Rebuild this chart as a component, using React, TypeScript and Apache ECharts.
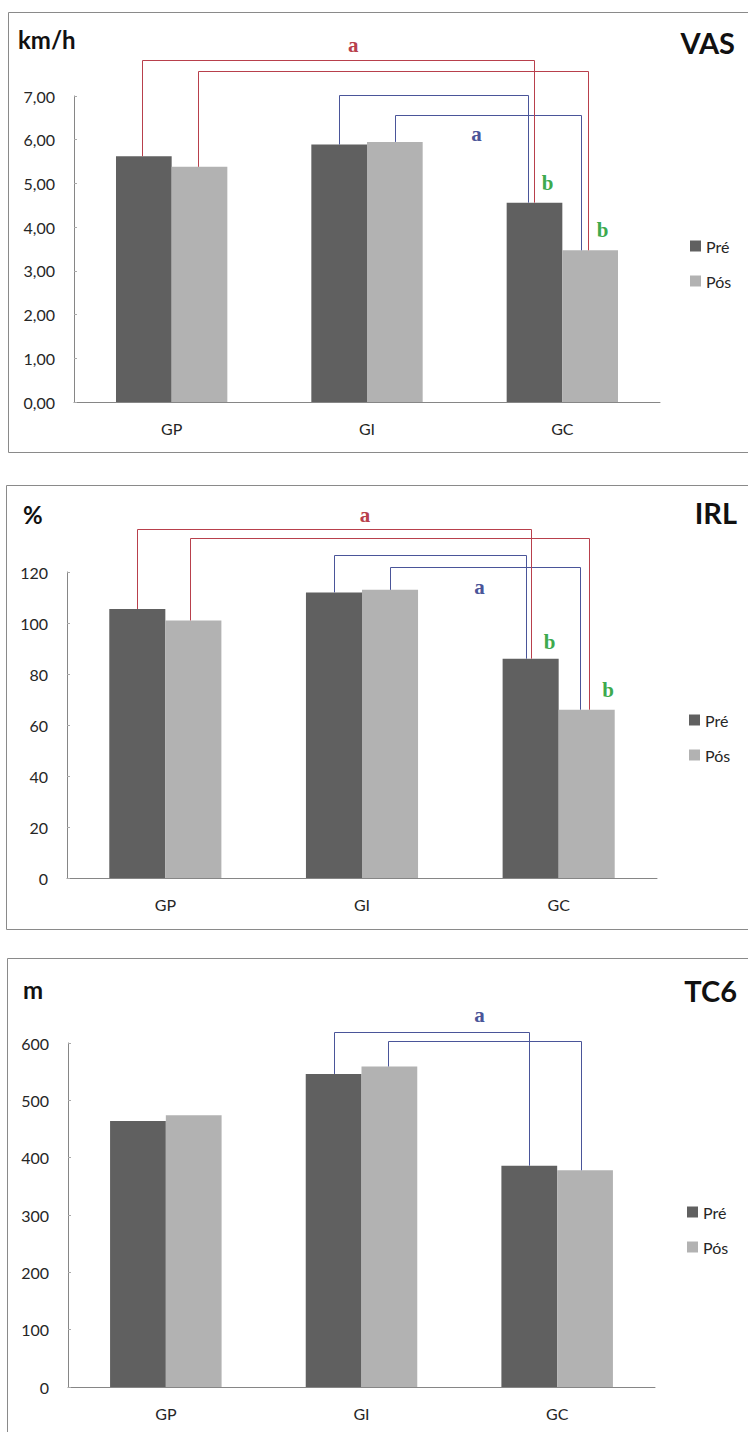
import React, { useEffect, useRef } from "react";
import * as echarts from "echarts";

// ---------- data ----------
const CATEGORIES = ["GP", "GI", "GC"];
const SERIES_NAMES = ["Pré", "Pós"];

const VAS_PRE = [5.62, 5.89, 4.56];
const VAS_POS = [5.38, 5.95, 3.47];
const IRL_PRE = [105.5, 112, 86];
const IRL_POS = [101, 113, 66];
const TC6_PRE = [464, 546, 386];
const TC6_POS = [474, 559, 378];

const VAS_AXIS = { min: 0, max: 7, interval: 1 };
const IRL_AXIS = { min: 0, max: 120, interval: 20 };
const TC6_AXIS = { min: 0, max: 600, interval: 100 };

// significance brackets: from/to = [category index, series], level = axis value
const VAS_BRACKETS = [
  { from: [0, "pre"], to: [2, "pre"], level: 7.82, tone: "red" },
  { from: [0, "pos"], to: [2, "pos"], level: 7.57, tone: "red" },
  { from: [1, "pre"], to: [2, "pre"], level: 7.02, tone: "blue" },
  { from: [1, "pos"], to: [2, "pos"], level: 6.56, tone: "blue" },
];
const IRL_BRACKETS = [
  { from: [0, "pre"], to: [2, "pre"], level: 136.7, tone: "red" },
  { from: [0, "pos"], to: [2, "pos"], level: 133.2, tone: "red" },
  { from: [1, "pre"], to: [2, "pre"], level: 126.7, tone: "blue" },
  { from: [1, "pos"], to: [2, "pos"], level: 122, tone: "blue" },
];
const TC6_BRACKETS = [
  { from: [1, "pre"], to: [2, "pre"], level: 620, tone: "blue" },
  { from: [1, "pos"], to: [2, "pos"], level: 603, tone: "blue" },
];

// significance letters: at = position in category units, value = axis value
const VAS_LETTERS = [
  { text: "a", at: 0.93, value: 8.16, tone: "red" },
  { text: "a", at: 1.56, value: 6.12, tone: "blue" },
  { text: "b", at: 1.925, value: 5.0, tone: "green" },
  { text: "b", at: 2.206, value: 3.93, tone: "green" },
];
const IRL_LETTERS = [
  { text: "a", at: 1.015, value: 142.4, tone: "red" },
  { text: "a", at: 1.597, value: 114.2, tone: "blue" },
  { text: "b", at: 1.954, value: 92.7, tone: "green" },
  { text: "b", at: 2.251, value: 73.7, tone: "green" },
];
const TC6_LETTERS = [{ text: "a", at: 1.603, value: 648, tone: "blue" }];

// ---------- styles ----------
const TONES: Record<string, string> = { red: "#b8404c", blue: "#4a5599", green: "#3daa4e" };
const PRE_COLOR = "#606060";
const POS_COLOR = "#b2b2b2";
const AXIS_COLOR = "#868686";
const TEXT_COLOR = "#262626";
const FONT = "Lato, 'Open Sans', sans-serif";
const BAR_FRAC = 0.285;

const fmtComma = (v: number) => v.toFixed(2).replace(".", ",");
const fmtInt = (v: number) => String(v);

const PANELS = [
  {
    unit: "km/h", title: "VAS", pre: VAS_PRE, pos: VAS_POS, axis: VAS_AXIS,
    brackets: VAS_BRACKETS, letters: VAS_LETTERS, fmt: fmtComma,
    border: { x: 8.5, y: 12.5, h: 440 },
    grid: { left: 74, top: 96, width: 586, height: 306 },
    unitPos: [18, 39], titlePos: [735, 42], legend: { left: 690, top: 238 },
    nudges: [[-2, 0], [-2, -2], [0, -6], [0, -9]],
  },
  {
    unit: "%", title: "IRL", pre: IRL_PRE, pos: IRL_POS, axis: IRL_AXIS,
    brackets: IRL_BRACKETS, letters: IRL_LETTERS, fmt: fmtInt,
    border: { x: 6.5, y: 485.5, h: 444 },
    grid: { left: 67, top: 572, width: 590, height: 306 },
    unitPos: [23, 514], titlePos: [737, 512], legend: { left: 689, top: 712 },
    nudges: [[0, 0], [-3, 2], [0, -5], [0, -7]],
  },
  {
    unit: "m", title: "TC6", pre: TC6_PRE, pos: TC6_POS, axis: TC6_AXIS,
    brackets: TC6_BRACKETS, letters: TC6_LETTERS, fmt: fmtInt,
    border: { x: 7.5, y: 958.5, h: 600 },
    grid: { left: 68, top: 1043, width: 587, height: 344 },
    unitPos: [23, 989], titlePos: [737, 990], legend: { left: 687, top: 1204 },
    nudges: [[0, 0], [-1, -4]],
  },
];

function buildOption() {
  const grid: any[] = [];
  const xAxis: any[] = [];
  const yAxis: any[] = [];
  const series: any[] = [];
  const legend: any[] = [];

  PANELS.forEach((p, gi) => {
    grid.push({ ...p.grid, containLabel: false });
    xAxis.push({
      type: "category", gridIndex: gi, data: CATEGORIES,
      axisLine: { lineStyle: { color: AXIS_COLOR, width: 1 } },
      axisTick: { show: false },
      axisLabel: { color: TEXT_COLOR, fontSize: 16, fontFamily: FONT, margin: 18 },
    });
    yAxis.push({
      type: "value", gridIndex: gi, min: p.axis.min, max: p.axis.max, interval: p.axis.interval,
      splitLine: { show: false },
      axisLine: { show: true, lineStyle: { color: AXIS_COLOR, width: 1 } },
      axisTick: { show: true, inside: true, length: 3, lineStyle: { color: "#aaa" } },
      axisLabel: { color: TEXT_COLOR, fontSize: 16, fontFamily: FONT, margin: 19, formatter: p.fmt },
    });
    series.push({
      type: "bar", name: SERIES_NAMES[0], xAxisIndex: gi, yAxisIndex: gi, data: p.pre,
      barWidth: BAR_FRAC * 100 + "%", barGap: "0%", itemStyle: { color: PRE_COLOR },
    });
    series.push({
      type: "bar", name: SERIES_NAMES[1], xAxisIndex: gi, yAxisIndex: gi, data: p.pos,
      barWidth: BAR_FRAC * 100 + "%", barGap: "0%", itemStyle: { color: POS_COLOR },
    });
    legend.push({
      data: SERIES_NAMES, orient: "vertical", left: p.legend.left, top: p.legend.top,
      icon: "rect", itemWidth: 11, itemHeight: 11, itemGap: 19, padding: 0,
      textStyle: { color: TEXT_COLOR, fontSize: 16, fontFamily: FONT, lineHeight: 16 },
      selectedMode: false,
    });
  });

  return {
    animation: false,
    backgroundColor: "#ffffff",
    grid, xAxis, yAxis, series, legend,
  };
}

// Annotations placed through the chart's own axes (convertToPixel)
function buildGraphics(chart: any) {
  const graphic: any[] = [];
  PANELS.forEach((p, gi) => {
    const finder = { xAxisIndex: gi, yAxisIndex: gi };
    const px = (cat: number, v: number) => chart.convertToPixel(finder, [cat, v]);
    const band = px(1, 0)[0] - px(0, 0)[0];
    const x0 = px(0, 0)[0];
    const xAt = (c: number, off: number) => x0 + (c + off) * band;
    const yAt = (v: number) => px(0, v)[1];
    const valOf = (cat: number, s: string) => (s === "pre" ? p.pre[cat] : p.pos[cat]);
    const offOf = (s: string) => (s === "pre" ? -BAR_FRAC / 2 : BAR_FRAC / 2);

    graphic.push({
      type: "rect", silent: true, z: 0,
      shape: { x: p.border.x, y: p.border.y, width: 760, height: p.border.h },
      style: { fill: "none", stroke: "#8a8a8a", lineWidth: 1 },
    });
    graphic.push({
      type: "text", x: p.unitPos[0], y: p.unitPos[1],
      style: { text: p.unit, fill: "#111", fontSize: 24, fontWeight: "bold", fontFamily: FONT, align: "left", verticalAlign: "middle" },
    });
    graphic.push({
      type: "text", x: p.titlePos[0], y: p.titlePos[1],
      style: { text: p.title, fill: "#111", fontSize: 29, fontWeight: "bold", fontFamily: FONT, align: "right", verticalAlign: "middle" },
    });

    p.brackets.forEach((b, i) => {
      const n = p.nudges[i] || [0, 0];
      const x1 = Math.round(xAt(b.from[0] as number, offOf(b.from[1] as string)) + n[0]) + 0.5;
      const x2 = Math.round(xAt(b.to[0] as number, offOf(b.to[1] as string)) + n[1]) + 0.5;
      const yl = Math.round(yAt(b.level)) + 0.5;
      const y1 = yAt(valOf(b.from[0] as number, b.from[1] as string));
      const y2 = yAt(valOf(b.to[0] as number, b.to[1] as string));
      graphic.push({
        type: "polyline", silent: true, z: b.tone === "red" ? 20 : 10,
        shape: { points: [[x1, y1], [x1, yl], [x2, yl], [x2, y2]] },
        style: { stroke: TONES[b.tone], lineWidth: 1, fill: null },
      });
    });
    p.letters.forEach((l) => {
      graphic.push({
        type: "text", x: x0 + l.at * band, y: yAt(l.value), z: 30,
        style: {
          text: l.text, fill: TONES[l.tone], fontSize: 21, fontWeight: "bold",
          fontFamily: "'Liberation Serif', 'DejaVu Serif', serif", align: "center", verticalAlign: "middle",
        },
      });
    });
  });
  return graphic;
}

export default function App() {
  const ref = useRef<HTMLDivElement>(null);
  useEffect(() => {
    if (!ref.current) return;
    const chart = echarts.init(ref.current, null, { renderer: "svg" });
    chart.setOption(buildOption() as any);
    chart.setOption({ graphic: buildGraphics(chart) } as any);
    return () => chart.dispose();
  }, []);
  return (
    <div
      ref={ref}
      style={{ position: "absolute", left: 0, top: 0, width: 748, height: 1432, background: "#fff" }}
    />
  );
}
